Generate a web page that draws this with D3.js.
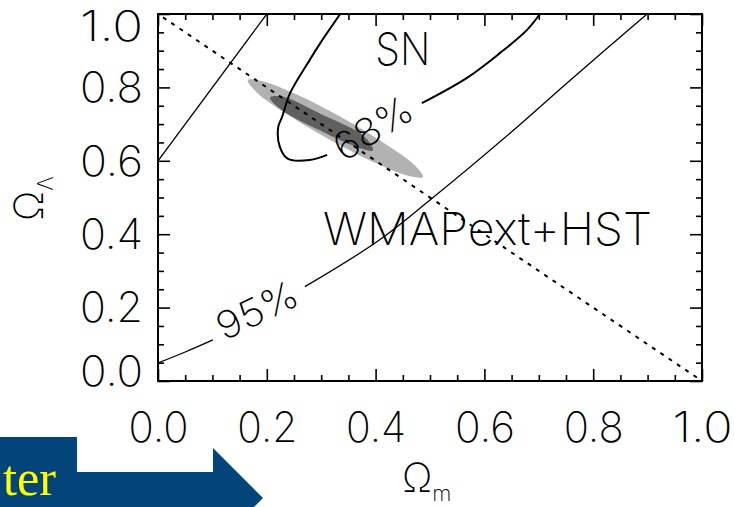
<!DOCTYPE html>
<html>
<head>
<meta charset="utf-8">
<script src="https://cdn.jsdelivr.net/npm/d3@7"></script>
<style>
html,body{margin:0;padding:0;background:#fff;}
svg{display:block;}
</style>
</head>
<body>
<svg id="chart" width="735" height="507"></svg>
<script>
// ---------- data ----------
const majorTicks = [0, 0.2, 0.4, 0.6, 0.8, 1.0];
const minorTicks = [0.05,0.1,0.15,0.25,0.3,0.35,0.45,0.5,0.55,0.65,0.7,0.75,0.85,0.9,0.95];
const tickLabels = ["0.0","0.2","0.4","0.6","0.8","1.0"];

// flat universe line (dotted)
const flatLine = [[0,1],[1,0]];
// SN 95% contour, upper-left branch
const sn95Upper = [[0,0.6],[0.2,1.0]];
// SN 95% contour, lower branch (broken by the label)
const sn95LowerA = [[0,0.049],[0.05,0.079],[0.101,0.112]];
const sn95LowerB = [[0.27,0.257],[0.403,0.38],[0.5,0.493],[0.647,0.675],[0.752,0.812],[0.899,1.0]];
// SN 68% contour (broken by the label)
const sn68A = [[0.335,1.0],[0.298,0.92],[0.279,0.875],[0.243,0.785],[0.228,0.719],[0.221,0.692],[0.224,0.638],[0.239,0.605],[0.279,0.602],[0.311,0.616]];
const sn68B = [[0.485,0.757],[0.568,0.826],[0.629,0.894],[0.678,0.956],[0.702,1.0]];
// WMAPext+HST 95% and 68% regions (outline points)
const wmap95 = [[0.487,0.556],[0.460,0.559],[0.397,0.596],[0.315,0.658],[0.236,0.728],[0.181,0.787],[0.165,0.820],[0.192,0.817],[0.256,0.780],[0.338,0.718],[0.416,0.648],[0.471,0.589]];
const wmap68 = [[0.395,0.628],[0.372,0.634],[0.296,0.684],[0.228,0.738],[0.206,0.772],[0.228,0.775],[0.300,0.727],[0.378,0.668]];

// ---------- drawing ----------
const svg = d3.select("#chart");
const FONT = "Inter, Roboto, 'DejaVu Sans', sans-serif";
const FW = 200;
const x = d3.scaleLinear().domain([0,1]).range([158,702]);
const y = d3.scaleLinear().domain([0,1]).range([381,14]);

// blue arrow decoration (bottom-left)
const blue = "#03447a";
svg.append("rect").attr("x",0).attr("y",437).attr("width",77).attr("height",70).attr("fill",blue);
svg.append("path").attr("d","M77,472 L213,472 L213,448 L263,498 L213,548 L213,524 L77,524 Z").attr("fill",blue);
svg.append("text").attr("x",3).attr("y",495)
  .attr("font-family","'Liberation Serif','Times New Roman',serif").attr("font-size",51)
  .attr("textLength",53).attr("lengthAdjust","spacingAndGlyphs")
  .attr("fill","#ffff00").text("ter");

// clip
svg.append("clipPath").attr("id","plotclip").append("rect")
  .attr("x",x(0)).attr("y",y(1)).attr("width",x(1)-x(0)).attr("height",y(0)-y(1));
const plot = svg.append("g").attr("clip-path","url(#plotclip)");

const line = d3.line().x(d=>x(d[0])).y(d=>y(d[1]));
const smooth = d3.line().x(d=>x(d[0])).y(d=>y(d[1])).curve(d3.curveCatmullRom);
const closed = d3.line().x(d=>x(d[0])).y(d=>y(d[1])).curve(d3.curveCatmullRomClosed);

const defs = svg.append("defs");
defs.append("filter").attr("id","soft").append("feGaussianBlur").attr("stdDeviation",0.7);

plot.append("path").attr("d",closed(wmap95)).attr("fill","#b2b2b2").attr("filter","url(#soft)");
plot.append("path").attr("d",closed(wmap68)).attr("fill","#5e5e5e").attr("filter","url(#soft)");

plot.append("path").attr("d",line(flatLine)).attr("fill","none").attr("stroke","#000")
  .attr("stroke-width",2).attr("stroke-dasharray","4,6").attr("stroke-dashoffset",-6);
plot.append("path").attr("d",line(sn95Upper)).attr("fill","none").attr("stroke","#000").attr("stroke-width",1.3);
[sn95LowerA, sn95LowerB].forEach(s=>{
  plot.append("path").attr("d",smooth(s)).attr("fill","none").attr("stroke","#000").attr("stroke-width",1.3);
});
[sn68A, sn68B].forEach(s=>{
  plot.append("path").attr("d",smooth(s)).attr("fill","none").attr("stroke","#000").attr("stroke-width",2);
});

// contour labels
function rotLabel(txt, dx, dy, ang, fs, len){
  svg.append("text").attr("transform",`translate(${x(dx)},${y(dy)}) rotate(${ang})`)
    .attr("text-anchor","middle").attr("dy","0.36em")
    .attr("font-family",FONT).attr("font-weight",FW).attr("font-size",fs)
    .attr("textLength",len).attr("lengthAdjust","spacingAndGlyphs")
    .attr("fill","#000").text(txt);
}
rotLabel("68%", 0.395, 0.689, -32, 38, 86);
rotLabel("95%", 0.182, 0.193, -26, 38, 86);

// region labels
svg.append("text").attr("x",x(0.45)).attr("y",y(0.8)-22).attr("text-anchor","middle")
  .attr("font-family",FONT).attr("font-weight",FW).attr("font-size",45)
  .attr("textLength",55).attr("lengthAdjust","spacingAndGlyphs").text("SN");
svg.append("text").attr("x",323).attr("y",245)
  .attr("font-family",FONT).attr("font-weight",FW).attr("font-size",45)
  .attr("textLength",329).attr("lengthAdjust","spacingAndGlyphs").text("WMAPext+HST");

// axes: frame ticks on all four sides, pointing inward
function ticks(gen, tr){
  const g = svg.append("g").attr("transform",tr).call(gen);
  g.select(".domain").remove();
  g.selectAll("line").attr("stroke","#000").attr("stroke-width",1.6);
  g.selectAll("text").remove();
}
ticks(d3.axisLeft(y).tickValues(minorTicks).tickSize(-6), `translate(${x(0)},0)`);
ticks(d3.axisLeft(y).tickValues(majorTicks).tickSize(-12), `translate(${x(0)},0)`);
ticks(d3.axisRight(y).tickValues(minorTicks).tickSize(-6), `translate(${x(1)},0)`);
ticks(d3.axisRight(y).tickValues(majorTicks).tickSize(-12), `translate(${x(1)},0)`);
ticks(d3.axisBottom(x).tickValues(minorTicks).tickSize(-6), `translate(0,${y(0)})`);
ticks(d3.axisBottom(x).tickValues(majorTicks).tickSize(-12), `translate(0,${y(0)})`);
ticks(d3.axisTop(x).tickValues(minorTicks).tickSize(-6), `translate(0,${y(1)})`);
ticks(d3.axisTop(x).tickValues(majorTicks).tickSize(-12), `translate(0,${y(1)})`);

svg.append("rect").attr("x",x(0)).attr("y",y(1)).attr("width",x(1)-x(0)).attr("height",y(0)-y(1))
  .attr("fill","none").attr("stroke","#000").attr("stroke-width",2);

// tick labels
const yl = svg.append("g").attr("transform",`translate(${x(0)},0)`)
  .call(d3.axisLeft(y).tickValues(majorTicks).tickSize(0).tickPadding(15).tickFormat((d,i)=>tickLabels[i]));
yl.select(".domain").remove();
yl.selectAll("text").attr("font-family",FONT).attr("font-weight",FW).attr("font-size",42).attr("fill","#000")
  .attr("textLength",63).attr("lengthAdjust","spacingAndGlyphs")
  .attr("dy",d=> d===1 ? "0.64em" : (d===0 ? "0.10em" : "0.34em"));

const xl = svg.append("g").attr("transform",`translate(0,${y(0)})`)
  .call(d3.axisBottom(x).tickValues(majorTicks).tickSize(0).tickPadding(31).tickFormat((d,i)=>tickLabels[i]));
xl.select(".domain").remove();
xl.selectAll("text").attr("font-family",FONT).attr("font-weight",FW).attr("font-size",42).attr("fill","#000")
  .attr("textLength",60).attr("lengthAdjust","spacingAndGlyphs");

// axis titles
const yt = svg.append("text").attr("transform","translate(43,221) rotate(-90)")
  .attr("font-family",FONT).attr("font-weight",FW).attr("font-size",40).attr("fill","#000");
yt.append("tspan").text("Ω");
yt.append("tspan").attr("font-size",22).attr("dy",10).text("Λ");

const xt = svg.append("text").attr("x",402).attr("y",492)
  .attr("font-family",FONT).attr("font-weight",FW).attr("font-size",40).attr("fill","#000");
xt.append("tspan").text("Ω");
xt.append("tspan").attr("font-size",22).attr("dy",9).text("m");
</script>
</body>
</html>
